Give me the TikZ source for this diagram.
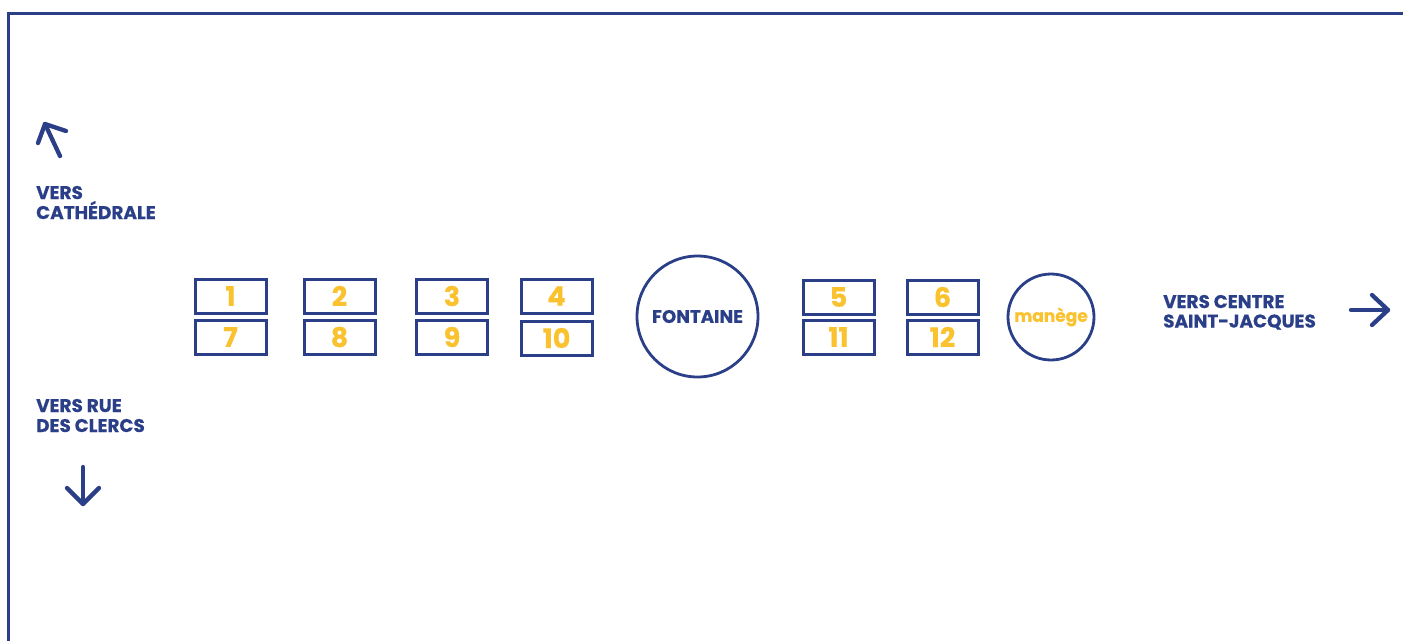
\documentclass[tikz,border=0pt]{standalone}
\usepackage{fontspec}
\setmainfont{Poppins}[BoldFont=* Bold,BoldFeatures={FakeBold=0.5}]
\definecolor{navy}{HTML}{2A3F88}
\definecolor{gold}{HTML}{F9C22E}
\begin{document}
\begin{tikzpicture}[x=1pt,y=-1pt,
  stand/.style={draw=navy,line width=3pt,minimum width=71pt,minimum height=34pt,inner sep=0pt,
    font=\fontsize{27}{27}\selectfont\bfseries,text=gold},
  roundspot/.style={draw=navy,line width=2.8pt,circle,inner sep=0pt},
  label/.style={font=\fontsize{18.4}{20}\selectfont\bfseries,text=navy,anchor=base west,inner sep=0pt},
  dirarrow/.style={draw=navy,line width=4.3pt,line cap=round,line join=round}]
\useasboundingbox (0,0) rectangle (1403,641);
% frame
\draw[navy,line width=3pt] (1403,13) -- (8,13) -- (8,641);
% stands
\node[stand] (s1) at (230.5,296) {1};
\node[stand] (s7) at (230.5,337) {7};
\node[stand] (s2) at (339.5,296) {2};
\node[stand] (s8) at (339.5,337) {8};
\node[stand] (s3) at (452,296) {3};
\node[stand] (s9) at (452,337) {9};
\node[stand] (s4) at (556.5,296) {4};
\node[stand] (s10) at (556.5,338) {10};
\node[stand] (s5) at (838.5,297) {5};
\node[stand] (s11) at (838.5,337) {11};
\node[stand] (s6) at (942.5,297) {6};
\node[stand] (s12) at (942.5,337) {12};
\node[roundspot,minimum size=121pt,font=\fontsize{18.2}{18}\selectfont\bfseries,text=navy] (fontaine) at (697.5,316.5) {FONTAINE};
\node[roundspot,minimum size=86pt,font=\fontsize{17}{17}\selectfont\bfseries,text=gold] (manege) at (1051,317) {manège};
% labels
\node[label] (cath1) at (36,199) {VERS};
\node[label] (cath2) at (36,219) {CATHÉDRALE};
\node[label] (clercs1) at (36,412) {VERS RUE};
\node[label] (clercs2) at (36,432) {DES CLERCS};
\node[label] (centre1) at (1163,308) {VERS CENTRE};
\node[label] (centre2) at (1163,327.5) {SAINT-JACQUES};
% arrows
\coordinate (a1s) at (60,156);
\coordinate (a1t) at (45,124);
\coordinate (a1l) at (38,143);
\coordinate (a1r) at (66,131);
\draw[dirarrow] (a1s) -- (a1t);
\draw[dirarrow] (a1l) -- (a1t) -- (a1r);
\coordinate (a2s) at (83,467);
\coordinate (a2t) at (83,504);
\coordinate (a2l) at (67,488);
\coordinate (a2r) at (99,488);
\draw[dirarrow] (a2s) -- (a2t);
\draw[dirarrow] (a2l) -- (a2t) -- (a2r);
\coordinate (a3s) at (1351,310);
\coordinate (a3t) at (1388,310);
\coordinate (a3l) at (1372,295);
\coordinate (a3r) at (1372,325);
\draw[dirarrow] (a3s) -- (a3t);
\draw[dirarrow] (a3l) -- (a3t) -- (a3r);
\end{tikzpicture}
\end{document}
